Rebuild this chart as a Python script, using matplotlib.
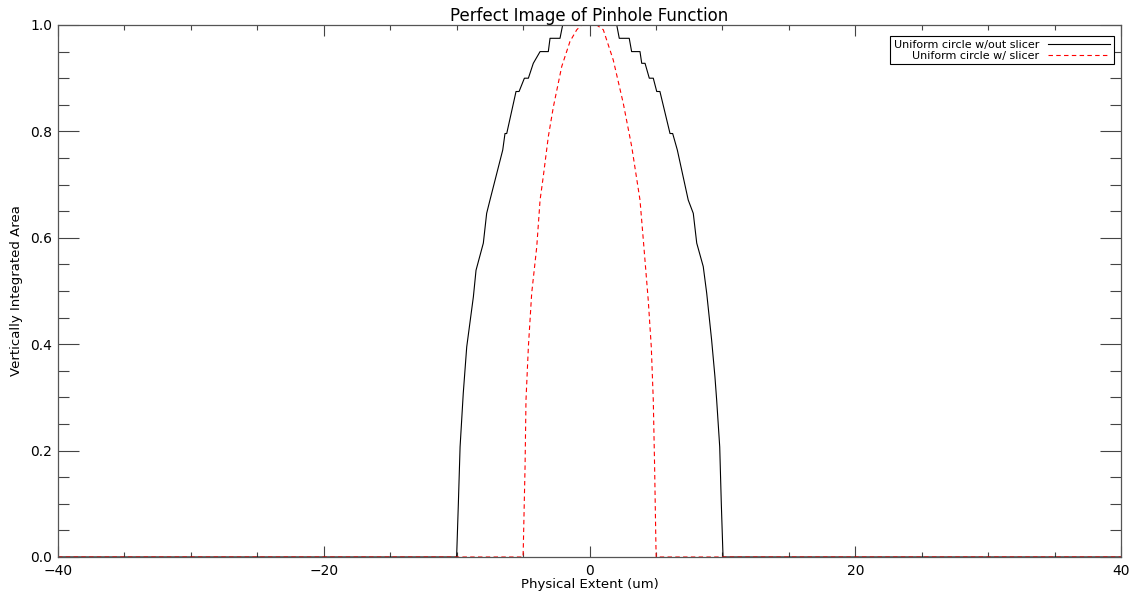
import matplotlib.pyplot as plt
from matplotlib.ticker import MultipleLocator

# values
x_noslicer = [-40, -10.0, -9.87, -9.74, -9.50, -9.24, -8.74, -8.54, -7.99, -7.74, -7.49,
              -6.53, -6.36, -6.23, -5.53, -5.30, -4.90, -4.60, -4.23, -3.72, -3.10,
              -2.97, -2.22, -2.02,
              2.05, 2.24, 2.99, 3.17, 3.80, 3.93, 4.18, 4.50, 4.80, 5.06, 5.30,
              6.06, 6.26, 6.61, 7.43, 7.81, 8.07, 8.56, 8.82, 9.19, 9.44, 9.57,
              9.80, 9.92, 10.05, 40]
y_noslicer = [0.0, 0.0, 0.10, 0.207, 0.308, 0.395, 0.489, 0.539, 0.590, 0.646, 0.671,
              0.765, 0.796, 0.796, 0.875, 0.875, 0.900, 0.900, 0.928, 0.950, 0.950,
              0.975, 0.975, 1.0,
              1.0, 0.975, 0.975, 0.950, 0.950, 0.928, 0.928, 0.900, 0.900, 0.875, 0.875,
              0.796, 0.796, 0.765, 0.671, 0.646, 0.590, 0.546, 0.496, 0.408, 0.339, 0.295,
              0.207, 0.10, 0.0, 0.0]

x_slicer = [-40, -5.0, -4.98, -4.85, -4.78, -4.60, -4.35, -3.97, -3.72, -3.48, -3.10,
            -2.72, -2.09, -1.47, -0.96, -0.59,
            0.54, 1.04, 1.79, 2.54, 3.18, 3.80, 4.05, 4.42, 4.65, 4.80, 4.90, 5.0, 5.02, 40]
y_slicer = [0.0, 0.0, 0.02, 0.170, 0.295, 0.395, 0.496, 0.583, 0.671, 0.715, 0.790,
            0.846, 0.922, 0.969, 0.991, 1.0,
            1.0, 0.991, 0.934, 0.853, 0.771, 0.671, 0.596, 0.483, 0.395, 0.295, 0.170, 0.02, 0.0, 0.0]

fig = plt.figure(figsize=(11.35, 5.97), dpi=100)
ax = fig.add_axes([58 / 1135, 40 / 597, (1121 - 58) / 1135, (557 - 25) / 597])

ax.plot(x_noslicer, y_noslicer, color='black', lw=0.8, label='Uniform circle w/out slicer')
ax.plot(x_slicer, y_slicer, color='red', lw=0.8, dashes=(4, 3), label='Uniform circle w/ slicer')

ax.set_xlim(-40, 40)
ax.set_ylim(0, 1.0)
ax.xaxis.set_major_locator(MultipleLocator(20))
ax.xaxis.set_minor_locator(MultipleLocator(5))
ax.yaxis.set_major_locator(MultipleLocator(0.2))
ax.yaxis.set_minor_locator(MultipleLocator(0.05))
ax.yaxis.set_major_formatter(lambda v, p: '%.1f' % v)
ax.tick_params(axis='both', which='both', direction='in', top=True, right=True,
               color='#444444', width=0.8, labelsize=10)
ax.tick_params(axis='x', which='major', length=7.6, pad=5)
ax.tick_params(axis='x', which='minor', length=3.8)
ax.tick_params(axis='y', which='major', length=15.3, pad=4)
ax.tick_params(axis='y', which='minor', length=7.6)
for s in ax.spines.values():
    s.set_color('#555555')
    s.set_linewidth(0.9)

ax.set_title('Perfect Image of Pinhole Function', fontsize=12, pad=3)
ax.set_xlabel('Physical Extent (um)', fontsize=9.5, labelpad=0)
ax.set_ylabel('Vertically Integrated Area', fontsize=9.5, labelpad=5)

leg = ax.legend(loc='upper right', bbox_to_anchor=(0.993, 0.979), markerfirst=False,
                fontsize=8, fancybox=False, framealpha=1, edgecolor='black',
                handlelength=5.6, borderpad=0.3, labelspacing=0.1, handletextpad=0.8,
                borderaxespad=0)
leg.get_frame().set_linewidth(0.8)
for t in leg.get_texts():
    t.set_ha('right')
leg._legend_box.align = 'right'

fig.savefig('out.png', dpi=100)
